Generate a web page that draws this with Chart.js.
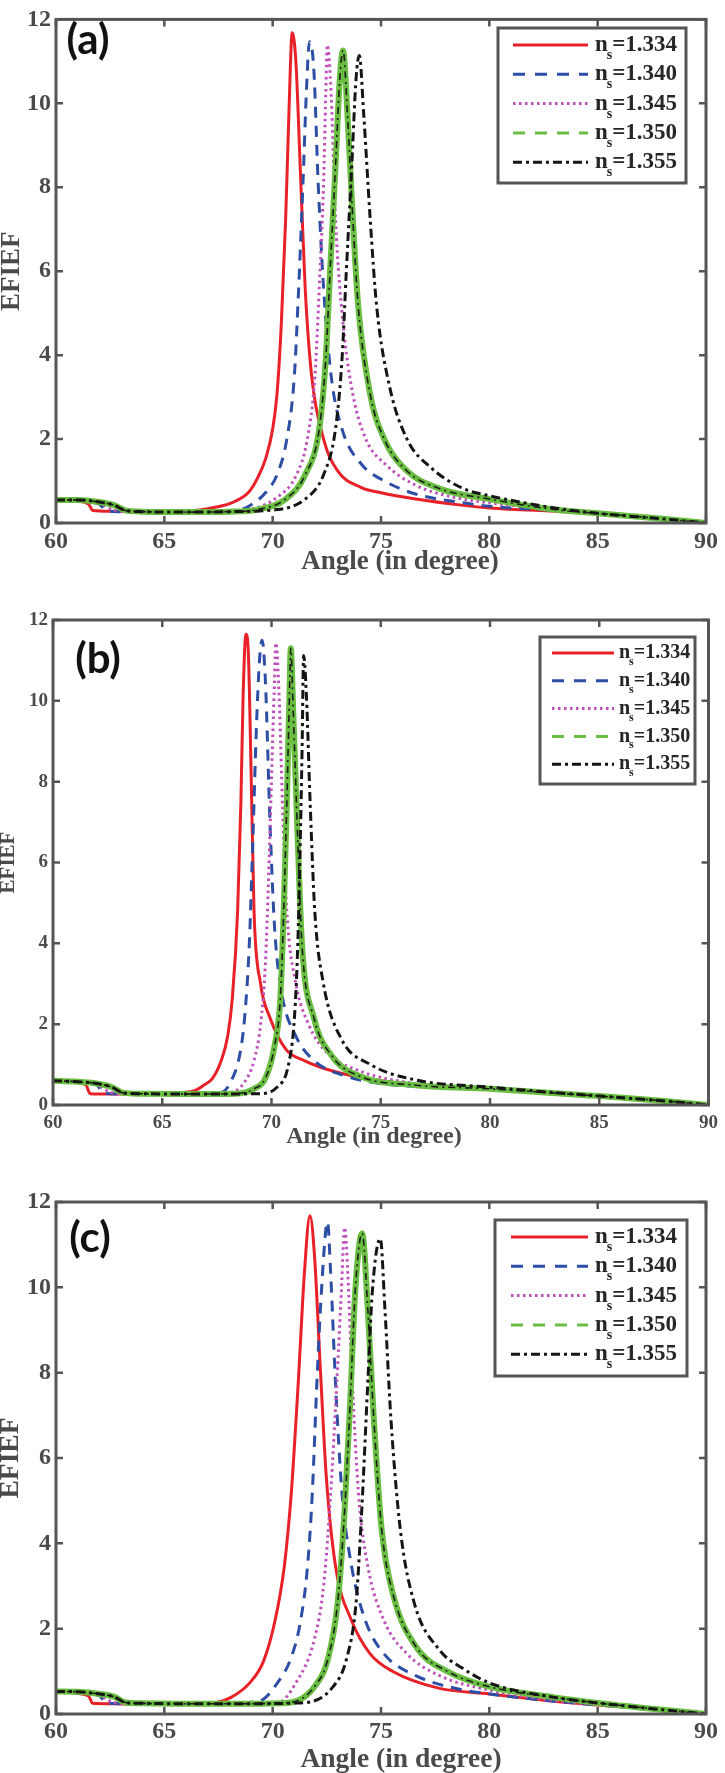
<!DOCTYPE html>
<html>
<head>
<meta charset="utf-8">
<script src="https://cdn.jsdelivr.net/npm/chart.js@4.4.1/dist/chart.umd.min.js"></script>
<style>
body { margin: 0; background: #fff; width: 725px; height: 1773px; position: relative; overflow: hidden; }
canvas { position: absolute; left: 0; }
</style>
</head>
<body>
<canvas id="chart-a" width="725" height="585" style="top:0px"></canvas>
<canvas id="chart-b" width="725" height="580" style="top:585px"></canvas>
<canvas id="chart-c" width="725" height="608" style="top:1165px"></canvas>
<script>
const seriesLabels = ['1.334', '1.340', '1.345', '1.350', '1.355'];
const xTickValues = [60, 65, 70, 75, 80, 85, 90];
const yTickValues = [0, 2, 4, 6, 8, 10, 12];

// panel (a)
const angleA1 = [60, 61, 61.5, 61.7, 62.5, 64, 66, 67.4, 68.1, 68.9, 69.3, 69.7, 70.0, 70.2, 70.4, 70.6, 70.75, 70.9, 71.07, 71.3, 71.5, 71.8, 72.35, 73.0, 74.07, 75, 76.6, 78.8, 80, 83, 85, 88, 90];
const efiefA1 = [0.57, 0.52, 0.45, 0.30, 0.28, 0.27, 0.28, 0.38, 0.48, 0.74, 1.07, 1.57, 2.24, 3.07, 4.75, 7.25, 9.76, 11.68, 11.0, 8.1, 5.6, 3.5, 2.0, 1.24, 0.85, 0.72, 0.57, 0.42, 0.36, 0.28, 0.23, 0.1, 0];
const angleA2 = [60, 61, 62, 62.3, 63, 65, 67, 68.5, 68.9, 69.7, 70.2, 70.65, 71.0, 71.2, 71.4, 71.55, 71.7, 71.9, 72.1, 72.35, 72.7, 73.2, 74.1, 75.2, 76.6, 78.8, 80, 83, 85, 88, 90];
const efiefA2 = [0.57, 0.52, 0.45, 0.30, 0.27, 0.26, 0.27, 0.32, 0.40, 0.74, 1.15, 1.99, 3.5, 5.6, 8.1, 10.2, 11.47, 10.8, 8.1, 5.6, 3.5, 2.24, 1.4, 0.99, 0.69, 0.48, 0.40, 0.30, 0.24, 0.1, 0];
const angleA3 = [60, 61, 62, 62.6, 63.2, 65, 67, 68.9, 70.2, 71.1, 71.6, 71.95, 72.15, 72.35, 72.45, 72.52, 72.7, 72.9, 73.25, 73.7, 74.3, 75.2, 76.6, 78.4, 80, 83, 85, 88, 90];
const efiefA3 = [0.57, 0.53, 0.47, 0.32, 0.27, 0.26, 0.26, 0.32, 0.61, 1.15, 2.0, 3.5, 5.6, 8.1, 10.2, 11.39, 10.2, 7.25, 4.75, 3.07, 2.0, 1.4, 0.9, 0.61, 0.48, 0.32, 0.25, 0.1, 0];
const angleA4 = [60, 61, 62, 62.7, 63.2, 64, 66, 68, 69.3, 70.6, 71.5, 72.15, 72.45, 72.65, 72.9, 73.1, 73.25, 73.45, 73.7, 73.95, 74.5, 75.15, 76.2, 77.7, 80, 83, 85, 88, 90];
const efiefA4 = [0.55, 0.55, 0.5, 0.42, 0.30, 0.27, 0.26, 0.27, 0.32, 0.57, 1.15, 2.24, 3.9, 6.0, 8.5, 10.6, 11.26, 9.76, 7.25, 5.16, 3.07, 2.0, 1.24, 0.82, 0.57, 0.32, 0.23, 0.1, 0];
const angleA5 = [60, 61, 62, 62.7, 63.2, 64, 66, 68, 70.2, 71.5, 72.35, 72.9, 73.2, 73.4, 73.65, 73.85, 74.0, 74.2, 74.5, 74.8, 75.4, 76.2, 77.3, 78.8, 80, 83, 85, 88, 90];
const efiefA5 = [0.55, 0.55, 0.5, 0.42, 0.30, 0.27, 0.26, 0.27, 0.32, 0.57, 1.15, 2.24, 3.9, 6.0, 8.5, 10.6, 11.14, 9.76, 7.25, 5.16, 3.24, 2.0, 1.32, 0.82, 0.65, 0.36, 0.23, 0.1, 0];

// panel (b)
const angleB1 = [60, 61, 61.5, 61.7, 62.5, 64, 65.5, 66.5, 66.9, 67.3, 67.7, 68.0, 68.2, 68.45, 68.6, 68.7, 68.83, 68.94, 69.06, 69.2, 69.5, 69.93, 70.67, 71.5, 72.8, 75, 80, 85, 88, 90];
const efiefB1 = [0.6, 0.56, 0.5, 0.28, 0.27, 0.27, 0.29, 0.36, 0.49, 0.66, 1.1, 1.72, 2.6, 4.8, 7.5, 10.1, 11.65, 11.2, 8.4, 4.8, 3.0, 2.16, 1.37, 1.1, 0.84, 0.6, 0.4, 0.22, 0.1, 0];
const angleB2 = [60, 61, 62, 62.3, 63, 65, 67, 67.7, 68.13, 68.56, 68.77, 68.98, 69.15, 69.3, 69.45, 69.57, 69.72, 69.93, 70.14, 70.46, 71.1, 71.94, 73.2, 75, 80, 85, 88, 90];
const efiefB2 = [0.6, 0.56, 0.5, 0.3, 0.27, 0.27, 0.28, 0.31, 0.57, 1.28, 2.16, 3.93, 6.6, 9.2, 11.0, 11.5, 10.5, 7.0, 4.4, 2.8, 1.72, 1.1, 0.75, 0.53, 0.4, 0.22, 0.1, 0];
const angleB3 = [60, 61, 62, 62.6, 63.2, 65, 67, 68.13, 68.77, 69.2, 69.5, 69.72, 69.87, 70.04, 70.14, 70.2, 70.35, 70.5, 70.7, 71.1, 71.7, 72.57, 74.05, 76.6, 80, 85, 88, 90];
const efiefB3 = [0.6, 0.57, 0.5, 0.32, 0.27, 0.27, 0.28, 0.31, 0.57, 1.1, 1.99, 3.49, 5.69, 8.8, 10.5, 11.43, 10.1, 7.5, 4.8, 3.05, 1.99, 1.28, 0.84, 0.53, 0.4, 0.22, 0.1, 0];
const angleB4 = [60, 61, 62, 62.7, 63.2, 64, 66, 68.35, 69.2, 69.72, 70.14, 70.4, 70.56, 70.7, 70.82, 70.88, 71.0, 71.2, 71.4, 71.94, 72.8, 74.05, 76.6, 80, 85, 88, 90];
const efiefB4 = [0.6, 0.58, 0.53, 0.44, 0.30, 0.28, 0.27, 0.28, 0.4, 0.66, 1.46, 2.6, 4.8, 7.46, 10.1, 11.3, 9.66, 6.58, 3.93, 2.16, 1.19, 0.71, 0.49, 0.4, 0.22, 0.1, 0];
const angleB5 = [60, 61, 62, 62.7, 63.2, 64, 66, 69.4, 70.25, 70.78, 71.05, 71.2, 71.3, 71.4, 71.47, 71.6, 71.77, 71.98, 72.36, 73.2, 74.5, 76.6, 80, 85, 88, 90];
const efiefB5 = [0.6, 0.58, 0.53, 0.44, 0.30, 0.28, 0.27, 0.28, 0.44, 1.0, 2.16, 3.93, 6.1, 8.8, 11.12, 10.1, 7.46, 4.8, 3.05, 1.63, 1.01, 0.62, 0.44, 0.22, 0.1, 0];

// panel (c)
const angleC1 = [60, 61, 61.5, 61.7, 62.5, 64, 66, 67.4, 68.08, 68.94, 69.58, 70.11, 70.54, 70.86, 71.18, 71.46, 71.72, 71.93, 72.19, 72.47, 72.9, 73.64, 74.5, 75.57, 77.7, 80, 83, 85, 88, 90];
const efiefC1 = [0.53, 0.48, 0.42, 0.25, 0.24, 0.23, 0.24, 0.27, 0.39, 0.73, 1.24, 2.19, 3.47, 5.18, 7.76, 10.3, 11.68, 10.75, 8.2, 5.6, 3.47, 2.19, 1.41, 0.99, 0.6, 0.47, 0.3, 0.21, 0.1, 0];
const angleC2 = [60, 61, 62, 62.3, 63, 65, 67, 69.37, 70.22, 70.86, 71.29, 71.61, 71.83, 72.04, 72.25, 72.53, 72.68, 72.9, 73.2, 73.64, 74.28, 75.14, 76.6, 78.8, 80, 83, 85, 88, 90];
const efiefC2 = [0.53, 0.49, 0.43, 0.26, 0.24, 0.23, 0.24, 0.3, 0.73, 1.33, 2.19, 3.47, 5.18, 7.76, 9.9, 11.53, 10.3, 7.76, 5.18, 3.47, 2.19, 1.41, 0.9, 0.56, 0.47, 0.3, 0.21, 0.1, 0];
const angleC3 = [60, 61, 62, 62.6, 63.2, 65, 67, 70.22, 71.07, 71.93, 72.36, 72.68, 72.96, 73.17, 73.32, 73.47, 73.64, 73.96, 74.39, 75.14, 76.2, 77.7, 80, 83, 85, 88, 90];
const efiefC3 = [0.53, 0.5, 0.44, 0.28, 0.24, 0.23, 0.24, 0.26, 0.73, 1.76, 3.04, 5.18, 7.76, 9.9, 11.4, 10.3, 8.2, 5.18, 3.47, 2.19, 1.41, 0.9, 0.56, 0.32, 0.22, 0.1, 0];
const angleC4 = [60, 61, 62, 62.7, 63.2, 64, 66, 68, 70.65, 71.93, 72.57, 73.0, 73.32, 73.58, 73.81, 74.13, 74.39, 74.67, 75.03, 75.57, 76.6, 78.1, 80, 83, 85, 88, 90];
const efiefC4 = [0.53, 0.52, 0.47, 0.4, 0.27, 0.25, 0.24, 0.24, 0.26, 0.64, 1.33, 2.61, 4.76, 7.33, 9.9, 11.27, 9.5, 6.9, 4.33, 2.78, 1.59, 0.99, 0.64, 0.39, 0.26, 0.1, 0];
const angleC5 = [60, 61, 62, 62.7, 63.2, 64, 66, 68, 71.29, 72.79, 73.43, 73.85, 74.11, 74.39, 74.6, 74.97, 75.18, 75.46, 75.89, 76.53, 77.7, 78.77, 80, 83, 85, 88, 90];
const efiefC5 = [0.53, 0.52, 0.47, 0.4, 0.27, 0.25, 0.24, 0.24, 0.26, 0.64, 1.33, 2.61, 4.76, 7.76, 9.9, 11.14, 9.5, 6.9, 4.33, 2.61, 1.5, 1.07, 0.73, 0.39, 0.26, 0.1, 0];

const lineStyles = [
    { color: 'rgb(232,32,40)', width: 3, dash: [], legendDash: [], legendWidth: 3 },
    { color: 'rgb(45,78,165)', width: 3, dash: [11, 8], legendDash: [12, 10], legendWidth: 3 },
    { color: 'rgb(190,80,185)', width: 3, dash: [2.5, 3.5], legendDash: [2.5, 3.5], legendWidth: 3 },
    { color: 'rgb(105,190,65)', width: 6, dash: [], legendDash: [12, 10], legendWidth: 3 },
    { color: '#151515', width: 3, dash: [9, 4, 3, 4], legendDash: [9, 4, 3, 4], legendWidth: 3 }
];

const axisGrey = '#4a4a4a';
const serif = '"Liberation Serif", "Times New Roman", serif';

const panels = [
    {
        id: 'chart-a', height: 585, left: 56, right: 706, top: 12, bottom: 523,
        angles: [angleA1, angleA2, angleA3, angleA4, angleA5],
        values: [efiefA1, efiefA2, efiefA3, efiefA4, efiefA5],
        tickFont: 24, xPad: 4, titleFont: 27, xTitleX: 400, xTitleY: 562, yTitleFont: 27, yTitleX: 12,
        tag: '(a)', tagX: 88, tagY: 40,
        legend: { x0: 498, y0: 28, w: 188, h: 155, row0: 45, gap: 29.3, s0: 513, s1: 588, tx: 595, font: 23 }
    },
    {
        id: 'chart-b', height: 580, left: 53, right: 714, top: 35, bottom: 520,
        angles: [angleB1, angleB2, angleB3, angleB4, angleB5],
        values: [efiefB1, efiefB2, efiefB3, efiefB4, efiefB5],
        tickFont: 19, xPad: 7, titleFont: 24, xTitleX: 374, xTitleY: 552, yTitleFont: 21, yTitleX: 9,
        tag: '(b)', tagX: 98, tagY: 74,
        legend: { x0: 540, y0: 52, w: 155, h: 147, row0: 68, gap: 27.8, s0: 552, s1: 614, tx: 619, font: 20 }
    },
    {
        id: 'chart-c', height: 608, left: 56, right: 706, top: 37, bottom: 549,
        angles: [angleC1, angleC2, angleC3, angleC4, angleC5],
        values: [efiefC1, efiefC2, efiefC3, efiefC4, efiefC5],
        tickFont: 24, xPad: 3, titleFont: 27.5, xTitleX: 401, xTitleY: 595, yTitleFont: 27.5, yTitleX: 11,
        tag: '(c)', tagX: 90, tagY: 73,
        legend: { x0: 495, y0: 55, w: 192, h: 156, row0: 72, gap: 29.3, s0: 511, s1: 588, tx: 595, font: 23 }
    }
];

function toPoints(xs, ys) {
    return xs.map((x, i) => ({ x: x, y: ys[i] }));
}

function buildDatasets(angles, values) {
    const sets = angles.map((xs, i) => ({
        label: 'ns=' + seriesLabels[i],
        data: toPoints(xs, values[i]),
        borderColor: lineStyles[i].color,
        borderWidth: lineStyles[i].width,
        borderDash: lineStyles[i].dash,
        pointRadius: 0,
        fill: false,
        cubicInterpolationMode: 'monotone',
        order: 10 - i * 2
    }));
    // thin dark dash-dot line running inside the green band
    sets.push({
        label: '',
        data: toPoints(angles[3], values[3]),
        borderColor: '#1c1c1c',
        borderWidth: 1.6,
        borderDash: [7, 4, 2, 4],
        pointRadius: 0,
        fill: false,
        cubicInterpolationMode: 'monotone',
        order: 3
    });
    return sets;
}

function drawLegend(ctx, lg) {
    ctx.save();
    ctx.fillStyle = '#fff';
    ctx.fillRect(lg.x0, lg.y0, lg.w, lg.h);
    ctx.strokeStyle = '#555';
    ctx.lineWidth = 3;
    ctx.strokeRect(lg.x0, lg.y0, lg.w, lg.h);
    seriesLabels.forEach((lab, i) => {
        const y = lg.row0 + i * lg.gap;
        ctx.beginPath();
        ctx.setLineDash(lineStyles[i].legendDash);
        ctx.strokeStyle = lineStyles[i].color;
        ctx.lineWidth = lineStyles[i].legendWidth;
        ctx.moveTo(lg.s0, y);
        ctx.lineTo(lg.s1, y);
        ctx.stroke();
        ctx.setLineDash([]);

        ctx.fillStyle = '#262626';
        ctx.textAlign = 'left';
        ctx.textBaseline = 'middle';
        ctx.font = 'bold ' + lg.font + 'px ' + serif;
        ctx.fillText('n', lg.tx, y);
        const nw = ctx.measureText('n').width;
        ctx.font = 'bold ' + Math.round(lg.font * 0.62) + 'px ' + serif;
        ctx.fillText('s', lg.tx + nw - 1, y + lg.font * 0.45);
        const sw = ctx.measureText('s').width;
        ctx.font = 'bold ' + lg.font + 'px ' + serif;
        ctx.fillText('=' + lab, lg.tx + nw + sw - 1, y);
    });
    ctx.restore();
}

const framePlugin = {
    id: 'frame',
    afterDatasetsDraw(chart, args, p) {
        const ctx = chart.ctx;
        const area = chart.chartArea;
        const xs = chart.scales.x;
        const ys = chart.scales.y;
        ctx.save();
        ctx.strokeStyle = '#555';
        ctx.lineWidth = 2.5;
        ctx.beginPath();
        xTickValues.forEach(v => {
            const px = xs.getPixelForValue(v);
            ctx.moveTo(px, area.bottom);
            ctx.lineTo(px, area.bottom - 7);
            ctx.moveTo(px, area.top);
            ctx.lineTo(px, area.top + 7);
        });
        yTickValues.forEach(v => {
            const py = ys.getPixelForValue(v);
            ctx.moveTo(area.left, py);
            ctx.lineTo(area.left + 7, py);
            ctx.moveTo(area.right, py);
            ctx.lineTo(area.right - 7, py);
        });
        ctx.stroke();
        ctx.lineWidth = 3;
        ctx.strokeRect(area.left, area.top, area.right - area.left, area.bottom - area.top);
        ctx.restore();
    },
    afterDraw(chart, args, p) {
        const ctx = chart.ctx;
        const area = chart.chartArea;
        ctx.save();
        ctx.fillStyle = axisGrey;
        ctx.textAlign = 'center';
        ctx.textBaseline = 'middle';
        ctx.font = 'bold ' + p.titleFont + 'px ' + serif;
        ctx.fillText('Angle (in degree)', p.xTitleX, p.xTitleY);

        ctx.translate(p.yTitleX, (area.top + area.bottom) / 2);
        ctx.rotate(-Math.PI / 2);
        ctx.font = 'bold ' + p.yTitleFont + 'px ' + serif;
        ctx.fillText('EFIEF', 0, 0);
        ctx.restore();

        ctx.save();
        ctx.fillStyle = '#111';
        ctx.textAlign = 'center';
        ctx.textBaseline = 'middle';
        ctx.font = 'bold 42px Lato, "Open Sans", sans-serif';
        ctx.fillText(p.tag, p.tagX, p.tagY);
        ctx.restore();

        drawLegend(ctx, p.legend);
    }
};

function drawPanel(p) {
    const ctx = document.getElementById(p.id).getContext('2d');
    const tickFont = { family: serif, size: p.tickFont, weight: 'bold' };
    return new Chart(ctx, {
        type: 'line',
        data: { datasets: buildDatasets(p.angles, p.values) },
        options: {
            responsive: false,
            animation: false,
            devicePixelRatio: 1,
            layout: { padding: { left: 0, top: p.top, right: 725 - p.right, bottom: 0 } },
            plugins: {
                legend: { display: false },
                tooltip: { enabled: false },
                frame: p
            },
            scales: {
                x: {
                    type: 'linear',
                    min: 60,
                    max: 90,
                    grid: { display: false, drawTicks: false },
                    border: { display: false },
                    ticks: { color: axisGrey, font: tickFont, padding: p.xPad, maxRotation: 0 },
                    afterBuildTicks: s => { s.ticks = xTickValues.map(v => ({ value: v })) },
                    afterFit: s => { s.height = p.height - p.bottom }
                },
                y: {
                    min: 0,
                    max: 12,
                    grid: { display: false, drawTicks: false },
                    border: { display: false },
                    ticks: { color: axisGrey, font: tickFont, padding: 5 },
                    afterBuildTicks: s => { s.ticks = yTickValues.map(v => ({ value: v })) },
                    afterFit: s => { s.width = p.left }
                }
            }
        },
        plugins: [framePlugin]
    });
}

panels.forEach(drawPanel);
</script>
</body>
</html>
